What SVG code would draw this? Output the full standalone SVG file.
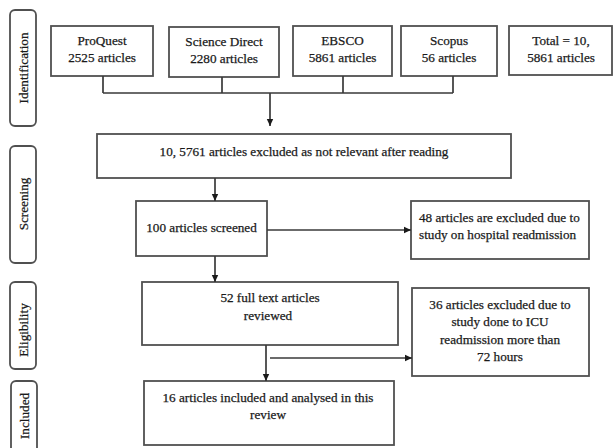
<svg xmlns="http://www.w3.org/2000/svg" width="613" height="448" viewBox="0 0 613 448">
<defs>
<style>
.box{fill:#fff;stroke:#505050;stroke-width:1.8}
.side{fill:#fff;stroke:#505050;stroke-width:1.8}
text{font-family:'Liberation Serif','DejaVu Serif',serif;font-size:13.2px;fill:#1a1a1a;stroke:#1a1a1a;stroke-width:0.25;text-anchor:middle}
text.l{text-anchor:start}
.ln{fill:none;stroke:#3a3a3a;stroke-width:1.7}
</style>
<marker id="ah" markerWidth="8" markerHeight="8" refX="7" refY="4" orient="auto" markerUnits="userSpaceOnUse">
<path d="M0,0.8 L7,4 L0,7.2 Z" fill="#1a1a1a"/>
</marker>
</defs>
<rect width="613" height="448" fill="#fff"/>
<g id="side-identification"><rect class="side" x="10" y="10" width="26" height="116" rx="5"/><text transform="translate(27.5,68) rotate(-90)">Identification</text></g>
<g id="side-screening"><rect class="side" x="10" y="146" width="26" height="117" rx="5"/><text transform="translate(27.5,204) rotate(-90)">Screening</text></g>
<g id="side-eligibility"><rect class="side" x="10" y="282" width="26" height="87" rx="5"/><text transform="translate(27.5,330) rotate(-90)">Eligibility</text></g>
<g id="side-included"><rect class="side" x="11" y="381" width="26" height="80" rx="5"/><text transform="translate(28.5,416) rotate(-90)">Included</text></g>
<g id="proquest"><rect class="box" x="51" y="26" width="102" height="50"/><text x="102" y="45">ProQuest</text><text x="102" y="62">2525 articles</text></g>
<g id="sciencedirect"><rect class="box" x="169" y="27" width="110" height="50"/><text x="224" y="46">Science Direct</text><text x="224" y="63">2280 articles</text></g>
<g id="ebsco"><rect class="box" x="293" y="26" width="99" height="50"/><text x="342.5" y="45">EBSCO</text><text x="342.5" y="62">5861 articles</text></g>
<g id="scopus"><rect class="box" x="401" y="26" width="96" height="50"/><text x="449" y="45">Scopus</text><text x="449" y="62">56 articles</text></g>
<g id="total"><rect class="box" x="509" y="26" width="103" height="49"/><text x="561" y="45">Total = 10,</text><text x="561" y="62">5861 articles</text></g>
<g id="excluded1"><rect class="box" x="97" y="134" width="414" height="44"/><text x="304" y="156">10, 5761 articles excluded as not relevant after reading</text></g>
<g id="screened"><rect class="box" x="136" y="201" width="131" height="55"/><text x="201.5" y="232">100 articles screened</text></g>
<g id="excluded2"><rect class="box" x="411" y="201" width="178" height="58"/><text class="l" x="419" y="222">48 articles are excluded due to</text><text class="l" x="419" y="239">study on hospital readmission</text></g>
<g id="fulltext"><rect class="box" x="142" y="282" width="256" height="63"/><text x="270" y="302">52 full text articles</text><text x="268" y="320">reviewed</text></g>
<g id="excluded3"><rect class="box" x="412" y="288" width="177" height="88"/><text x="500" y="309">36 articles excluded due to</text><text x="500" y="326">study done to ICU</text><text x="500" y="344">readmission more than</text><text x="500" y="361">72 hours</text></g>
<g id="included"><rect class="box" x="144" y="381" width="250" height="64"/><text x="268" y="402">16 articles included and analysed in this</text><text x="268" y="419">review</text></g>
<g id="connectors">
<path class="ln" d="M103,76 V93 M222,77 V93 M343,76 V93 M453,76 V93 M103,93 H453"/>
<path class="ln" d="M270,93 V126" marker-end="url(#ah)"/>
<path class="ln" d="M215,178 V201" marker-end="url(#ah)"/>
<path class="ln" d="M267,230 H411" marker-end="url(#ah)"/>
<path class="ln" d="M215,256 V282" marker-end="url(#ah)"/>
<path class="ln" d="M266,345 V381" marker-end="url(#ah)"/>
<path class="ln" d="M270,358 H412" marker-end="url(#ah)"/>
</g>
</svg>
